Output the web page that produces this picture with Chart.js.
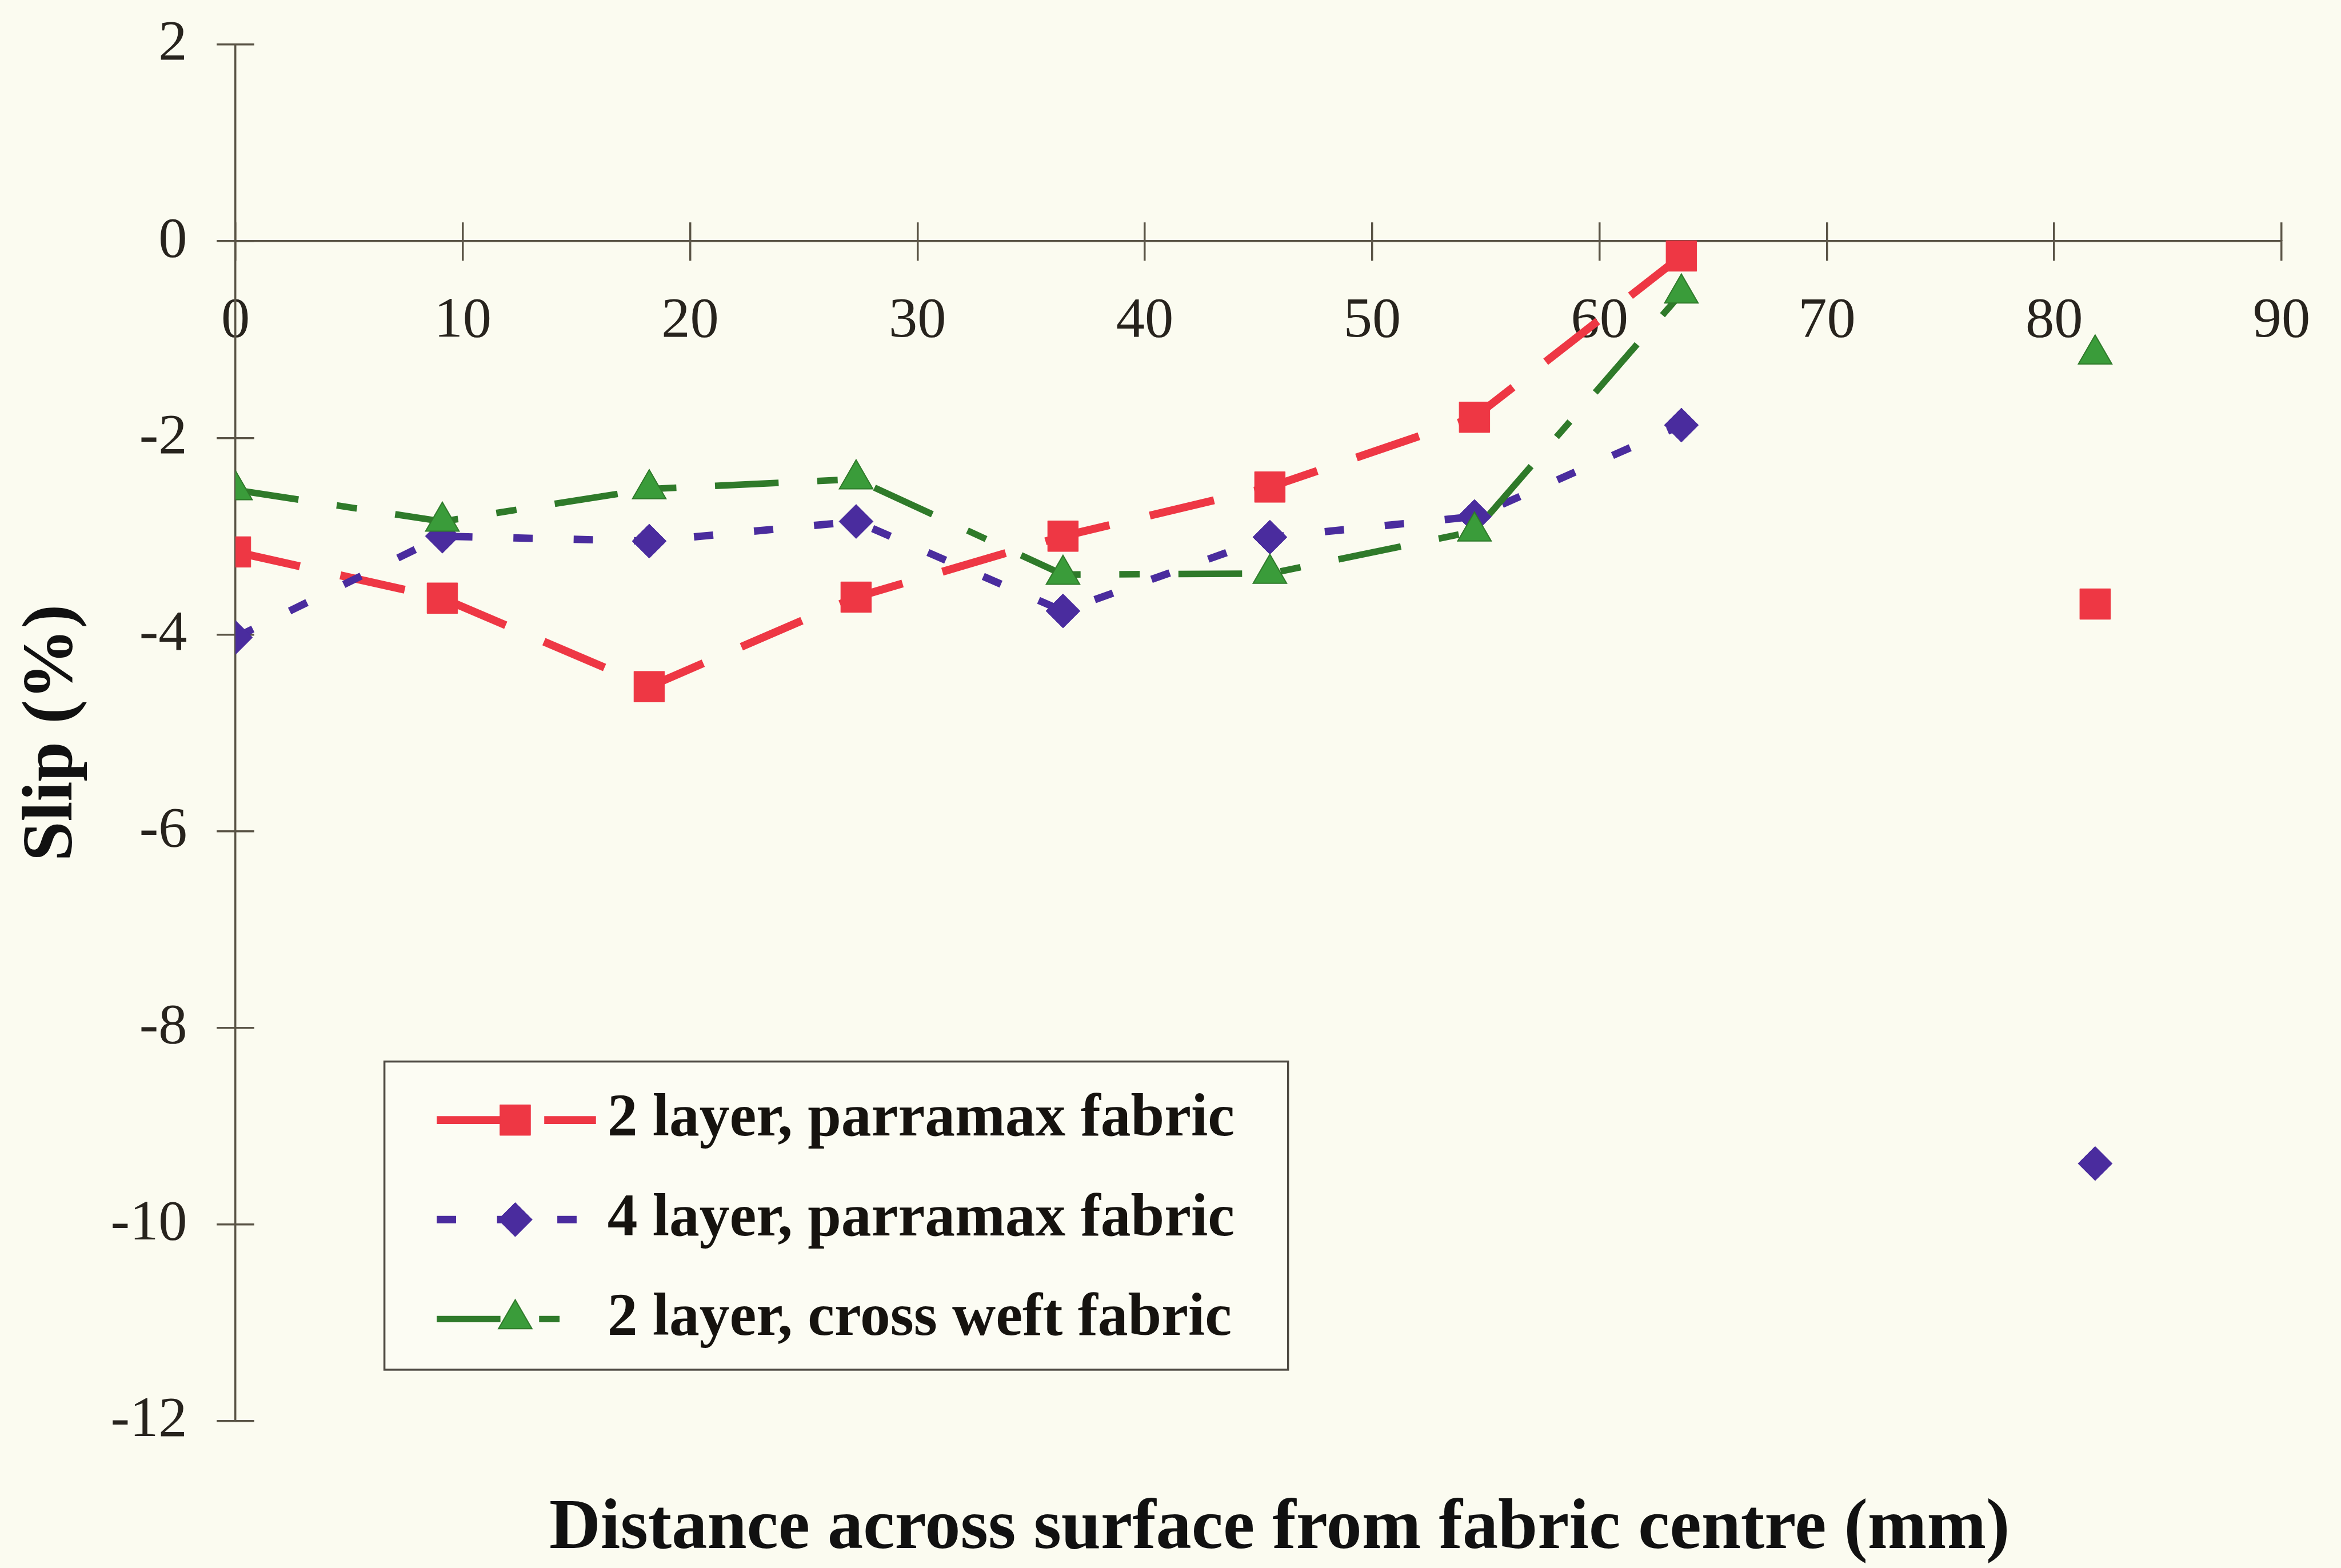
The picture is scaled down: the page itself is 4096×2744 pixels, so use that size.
<!DOCTYPE html>
<html>
<head>
<meta charset="utf-8">
<title>Slip across fabric surface</title>
<script src="https://cdn.jsdelivr.net/npm/chart.js"></script>
<style>
  html, body { margin: 0; padding: 0; background: #fbfbf0; }
  canvas { display: block; }
</style>
</head>
<body>
<canvas id="slipChart" width="4096" height="2744"></canvas>
<script>
// Distance across surface from fabric centre (mm)
const distance = [0, 9.1, 18.2, 27.3, 36.4, 45.5, 54.5, 63.6, 72.7, 81.8];

// Slip (%) at each station; null where no reading was taken
const slip2LayerParramax  = [-3.16, -3.63, -4.53, -3.62, -3.00, -2.50, -1.79, -0.15, null, -3.69];
const slip4LayerParramax  = [-4.03, -3.00, -3.05, -2.85, -3.76, -3.01, -2.80, -1.87, null, -9.38];
const slip2LayerCrossWeft = [-2.53, -2.85, -2.52, -2.42, -3.39, -3.38, -2.95, -0.53, null, -1.15];

const seriesNames = ['2 layer, parramax fabric', '4 layer, parramax fabric', '2 layer, cross weft fabric'];

// Axis tick values
const xTickValues = [0, 10, 20, 30, 40, 50, 60, 70, 80, 90];
const yTickValues = [2, 0, -2, -4, -6, -8, -10, -12];

const xTitle = 'Distance across surface from fabric centre (mm)';
const yTitle = 'Slip (%)';

// ---- styling ----
const S = 0.995;                       // overall drawing scale
const SERIF = '"Liberation Serif", "Times New Roman", serif';
const AXIS = '#5a5446';
const INK = '#27231d';
const RED = '#ee3744';
const BLUE = '#4a2c9e';
const GREEN = '#2f7a2a';
const GREEN_FILL = '#3a9c3a';

const pts = (ys) => distance.map((x, i) => ({ x: x, y: ys[i] }));

const tickTo = (values) => (scale) => { scale.ticks = values.map(v => ({ value: v })); };

// Legend panel with line + marker samples taken from each dataset
const legendPanel = {
  id: 'legendPanel',
  afterDatasetsDraw(chart, args, o) {
    const ctx = chart.ctx;
    ctx.save();
    ctx.fillStyle = o.fill;
    ctx.fillRect(o.left, o.top, o.right - o.left, o.bottom - o.top);
    ctx.strokeStyle = o.border;
    ctx.lineWidth = o.borderWidth;
    ctx.strokeRect(o.left, o.top, o.right - o.left, o.bottom - o.top);

    chart.data.datasets.forEach((ds, i) => {
      const y = o.rowY[i];
      ctx.save();
      ctx.strokeStyle = ds.borderColor;
      ctx.lineWidth = ds.borderWidth;
      ctx.lineCap = 'butt';
      ctx.setLineDash(ds.borderDash || []);
      ctx.beginPath();
      ctx.moveTo(o.lineX0, y);
      ctx.lineTo(o.lineX1, y);
      ctx.stroke();
      ctx.restore();

      ctx.save();
      ctx.fillStyle = ds.pointBackgroundColor;
      ctx.strokeStyle = ds.pointBorderColor;
      ctx.lineWidth = ds.pointBorderWidth;
      Chart.helpers.drawPoint(ctx, {
        pointStyle: ds.pointStyle, radius: ds.pointRadius,
        borderWidth: ds.pointBorderWidth, rotation: 0
      }, o.markerX, y);
      ctx.restore();

      ctx.fillStyle = o.color;
      ctx.font = 'bold ' + o.fontSize + 'px ' + SERIF;
      ctx.textAlign = 'left';
      ctx.textBaseline = 'middle';
      ctx.fillText(ds.label, o.textX, y);
    });
    ctx.restore();
  }
};

// Horizontal axis caption under the plot
const xCaption = {
  id: 'xCaption',
  afterDraw(chart, args, o) {
    const ctx = chart.ctx;
    ctx.save();
    ctx.fillStyle = o.color;
    ctx.font = 'bold ' + o.fontSize + 'px ' + SERIF;
    ctx.textAlign = 'center';
    ctx.textBaseline = 'middle';
    ctx.fillText(o.text, o.x, o.y);
    ctx.restore();
  }
};

const tickFont = { family: SERIF, size: 101 * S, lineHeight: 1.2 };

new Chart(document.getElementById('slipChart'), {
  type: 'line',
  data: {
    datasets: [
      {
        label: seriesNames[0], data: pts(slip2LayerParramax), order: 3,
        borderColor: RED, borderWidth: 14 * S, borderDash: [116 * S, 73 * S],
        pointStyle: 'rect', pointRadius: 38 * S,
        pointBackgroundColor: RED, pointBorderColor: RED, pointBorderWidth: 1
      },
      {
        label: seriesNames[1], data: pts(slip4LayerParramax), order: 2,
        borderColor: BLUE, borderWidth: 13 * S, borderDash: [34 * S, 72 * S],
        pointStyle: 'rectRot', pointRadius: 30 * S,
        pointBackgroundColor: BLUE, pointBorderColor: BLUE, pointBorderWidth: 1
      },
      {
        label: seriesNames[2], data: pts(slip2LayerCrossWeft), order: 1,
        borderColor: GREEN, borderWidth: 11.5 * S, borderDash: [112 * S, 68 * S, 36 * S, 68 * S],
        pointStyle: 'triangle', pointRadius: 34 * S,
        pointBackgroundColor: GREEN_FILL, pointBorderColor: GREEN, pointBorderWidth: 2
      }
    ]
  },
  options: {
    responsive: false,
    animation: false,
    devicePixelRatio: 1,
    events: [],
    spanGaps: false,
    layout: { padding: { left: 0, right: 104, top: 78, bottom: 257 } },
    elements: { line: { tension: 0, fill: false, borderCapStyle: 'butt', borderJoinStyle: 'miter' } },
    plugins: {
      legend: { display: false },
      tooltip: { enabled: false },
      legendPanel: {
        left: 676 * S, top: 1867 * S, right: 2265 * S, bottom: 2409 * S,
        fill: '#fcfcf3', border: '#4e4a42', borderWidth: 3.5 * S,
        rowY: [1970 * S, 2145 * S, 2320 * S],
        lineX0: 768 * S, lineX1: 1048 * S, markerX: 906 * S, textX: 1068 * S,
        fontSize: 106 * S, color: '#16130f'
      },
      xCaption: { text: xTitle, x: 2250 * S, y: 2690 * S, fontSize: 125 * S, color: '#111' }
    },
    scales: {
      x: {
        type: 'linear', axis: 'x', position: { y: 0 },
        min: 0, max: 90,
        afterBuildTicks: tickTo(xTickValues),
        grid: { drawOnChartArea: false, drawTicks: true, tickLength: 33 * S, color: AXIS, lineWidth: 3.5 * S },
        border: { display: true, color: AXIS, width: 3.5 * S },
        ticks: { font: tickFont, color: INK, padding: 47, maxRotation: 0, autoSkip: false,
                 callback: (v) => String(v) }
      },
      x2: {
        type: 'linear', axis: 'x', position: { y: 0 },
        min: 0, max: 90,
        afterBuildTicks: tickTo(xTickValues),
        grid: { drawOnChartArea: false, drawTicks: true, tickLength: -33 * S, color: AXIS, lineWidth: 3.5 * S },
        border: { display: false },
        ticks: { display: false }
      },
      y: {
        type: 'linear', axis: 'y', position: 'left',
        min: -12, max: 2,
        afterBuildTicks: tickTo(yTickValues),
        afterFit: (scale) => { scale.width = 412; scale.paddingTop = 0; scale.paddingBottom = 0; },
        grid: { drawOnChartArea: false, drawTicks: true, tickLength: 33 * S, color: AXIS, lineWidth: 3.5 * S },
        border: { display: true, color: AXIS, width: 3.5 * S },
        ticks: { font: tickFont, color: INK, padding: 52 * S, autoSkip: false,
                 callback: (v) => String(v) },
        title: {
          display: true, text: yTitle, color: '#111',
          font: { family: SERIF, size: 126 * S, weight: 'bold', lineHeight: 1 },
          padding: { top: 30, bottom: 0 }
        }
      },
      y2: {
        type: 'linear', axis: 'y', position: { x: 0 },
        min: -12, max: 2,
        afterBuildTicks: tickTo(yTickValues),
        afterFit: (scale) => { scale.paddingTop = 0; scale.paddingBottom = 0; },
        grid: { drawOnChartArea: false, drawTicks: true, tickLength: -33 * S, color: AXIS, lineWidth: 3.5 * S },
        border: { display: false },
        ticks: { display: false }
      }
    }
  },
  plugins: [legendPanel, xCaption]
});
</script>
</body>
</html>
